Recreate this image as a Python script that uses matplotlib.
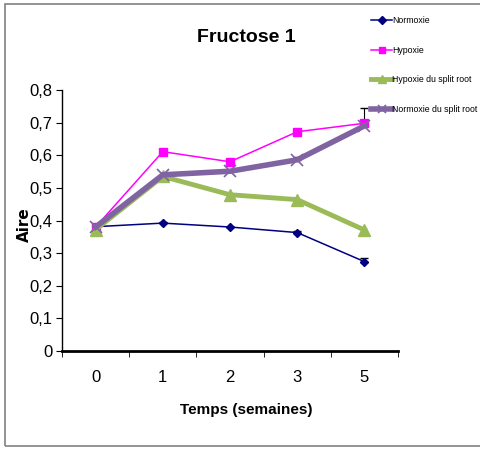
import matplotlib
matplotlib.use("Agg")
import numpy as np
import matplotlib.pyplot as plt
from matplotlib.patches import Rectangle

# -- data
weeks = ["0", "1", "2", "3", "5"]
normoxie = [0.381, 0.392, 0.380, 0.363, 0.274]
hypoxie = [0.380, 0.611, 0.580, 0.672, 0.698]
hypoxie_split = [0.372, 0.535, 0.479, 0.464, 0.371]
normoxie_split = [0.380, 0.540, 0.551, 0.586, 0.690]
normoxie_err = [0.0, 0.004, 0.0, 0.004, 0.012]
normoxie_split_err = [0.0, 0.0, 0.0, 0.010, 0.054]

plt.rcParams["font.family"] = ["Liberation Sans", "DejaVu Sans"]

fig = plt.figure(figsize=(4.8, 4.5), dpi=100)
ax = fig.add_axes([62 / 480, 99 / 450, 336 / 480, 261 / 450])

x = np.arange(len(weeks))
zeros = np.zeros(len(weeks))

# -- error bars (upper only)
ax.errorbar(x, normoxie, yerr=[zeros, normoxie_err], fmt="none",
            ecolor="black", capsize=3, elinewidth=0.8, zorder=2)
ax.errorbar(x, normoxie_split, yerr=[zeros, normoxie_split_err], fmt="none",
            ecolor="black", capsize=3, elinewidth=0.8, zorder=2)

# -- series
l1, = ax.plot(x, normoxie, color="#000080", marker="D", markersize=4.5,
              lw=1.1, label="Normoxie", zorder=3)
l2, = ax.plot(x, hypoxie, color="#FF00FF", marker="s", markersize=6, lw=1.1,
              label="Hypoxie", zorder=3)
l3, = ax.plot(x, hypoxie_split, color="#9BBB59", marker="^", markersize=8,
              lw=3.5, label="Hypoxie du split root", zorder=3)
l4, = ax.plot(x, normoxie_split, color="#8064A2", marker="x", markersize=8,
              mew=1.2, lw=4, label="Normoxie du split root", zorder=4)

ax.set_xlim(-0.5, len(weeks) - 0.5)
ax.set_ylim(0, 0.8)
ax.set_yticks(np.arange(0, 0.81, 0.1))
ax.set_yticklabels(["0"] + ["{:.1f}".format(v).replace(".", ",")
                            for v in np.arange(0.1, 0.81, 0.1)])
ax.set_xticks(x)
ax.set_xticklabels(weeks)
ax.set_xticks(np.arange(-0.5, len(weeks), 1), minor=True)
ax.tick_params(axis="x", which="major", length=0, pad=14, labelsize=12)
ax.tick_params(axis="x", which="minor", length=4, direction="out")
ax.tick_params(axis="y", length=4, direction="out", labelsize=12, pad=3)

for side in ["top", "right"]:
    ax.spines[side].set_visible(False)
ax.spines["bottom"].set_linewidth(2)
ax.spines["left"].set_linewidth(1)

fig.text(246 / 480, 1 - 38 / 450, "Fructose 1", ha="center", va="center",
         fontsize=14, fontweight="bold")
fig.text(246 / 480, 1 - 410 / 450, "Temps (semaines)", ha="center",
         va="center", fontsize=11, fontweight="bold")
fig.text(24 / 480, 1 - 225 / 450, "Aire", ha="center", va="center",
         rotation=90, fontsize=11, fontweight="bold", family="DejaVu Sans")

leg = fig.legend(handles=[l1, l2, l3, l4], loc="upper left",
                 bbox_to_anchor=(371 / 480, 1 - 16 / 450), frameon=False,
                 fontsize=6.3, labelspacing=2.37, handlelength=2.4,
                 handletextpad=0.05, borderaxespad=0, borderpad=0,
                 markerscale=0.8)

fig.patches.append(Rectangle((5 / 480, 4 / 450), 1.2, 442 / 450,
                             transform=fig.transFigure, fill=False,
                             edgecolor="#808080", lw=1.2))

fig.savefig("out.png", dpi=100)
